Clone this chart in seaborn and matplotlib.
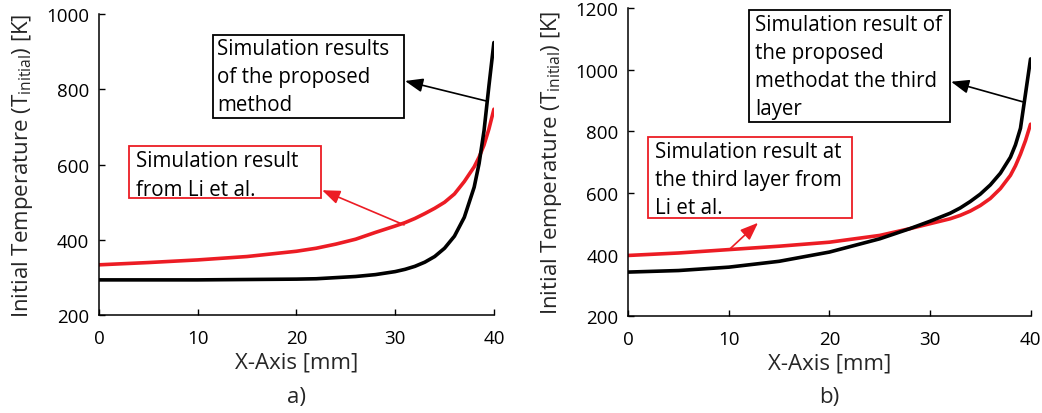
import numpy as np
import pandas as pd
import matplotlib
matplotlib.use("Agg")
import matplotlib.pyplot as plt
from matplotlib.patches import Rectangle
import seaborn as sns

# ---- data -------------------------------------------------------------
x_a_proposed = [0, 5, 10, 15, 20, 22, 24, 26, 28, 30, 31, 32, 33, 34, 35, 36,
                37, 38, 38.5, 39, 39.5, 40]
t_a_proposed = [294, 294, 294, 295, 296, 297, 300, 303, 308, 316, 322, 330, 341,
                356, 378, 410, 460, 540, 603, 690, 810, 924]

x_a_li = [0, 5, 10, 15, 20, 22, 24, 26, 28, 30, 31, 32, 33, 34, 35, 36, 37, 38,
          38.5, 39, 39.5, 40]
t_a_li = [334, 340, 347, 356, 370, 378, 389, 402, 420, 437, 446, 457, 470, 484,
          500, 522, 555, 594, 620, 652, 695, 747]

x_b_proposed = [0, 5, 10, 15, 20, 25, 28, 30, 32, 33, 34, 35, 36, 37, 38, 38.5,
                39, 39.5, 40]
t_b_proposed = [343, 348, 359, 378, 408, 451, 484, 508, 534, 551, 572, 596, 626,
                664, 716, 756, 810, 922, 1035]

x_b_li = [0, 5, 10, 15, 20, 25, 28, 30, 32, 33, 34, 35, 36, 37, 38, 38.5, 39,
          39.5, 40]
t_b_li = [397, 405, 416, 427, 440, 462, 484, 500, 516, 527, 541, 559, 582, 614,
          657, 688, 726, 770, 823]

x_ticks = [0, 10, 20, 30, 40]
y_ticks_a = [200, 400, 600, 800, 1000]
y_ticks_b = [200, 400, 600, 800, 1000, 1200]

label_a_proposed = ["Simulation results", "of the proposed", "method"]
label_a_li = ["Simulation result", "from Li et al."]
label_b_proposed = ["Simulation result of", "the proposed", "methodat the third",
                    "layer"]
label_b_li = ["Simulation result at", "the third layer from", "Li et al."]

RED = "#ec1c24"
BLACK = "#000000"
NOTE_SIZE = 14.8
LINE_STEP_PT = 20.2   # distance between note baselines, in points

# ---- style ------------------------------------------------------------
sns.set_theme(style="ticks")
plt.rcParams["font.family"] = ["Open Sans", "DejaVu Sans"]
plt.rcParams["mathtext.fontset"] = "custom"
plt.rcParams["mathtext.rm"] = "Open Sans"

fig = plt.figure(figsize=(10.42, 4.14), dpi=100)
ax_a = fig.add_axes([0.095, 0.236, 0.379, 0.728])
ax_b = fig.add_axes([0.603, 0.234, 0.386, 0.744])


def draw_panel(ax, xp, tp, xl, tl, yticks, tag):
    df = pd.concat([
        pd.DataFrame({"x": xl, "T": tl, "series": "li"}),
        pd.DataFrame({"x": xp, "T": tp, "series": "proposed"}),
    ])
    sns.lineplot(data=df, x="x", y="T", hue="series",
                 palette={"li": RED, "proposed": BLACK},
                 linewidth=2.6, legend=False, ax=ax, estimator=None, sort=True)
    ax.set_xlim(0, 40)
    ax.set_ylim(yticks[0], yticks[-1])
    ax.set_xticks(x_ticks)
    ax.set_yticks(yticks)
    ax.tick_params(direction="in", length=4, width=1.0, labelsize=13.5,
                   color="black", labelcolor="black")
    ax.tick_params(axis="x", pad=10)
    ax.tick_params(axis="y", pad=7)
    for side in ("top", "right"):
        ax.spines[side].set_visible(False)
    for side in ("left", "bottom"):
        ax.spines[side].set_linewidth(1.1)
        ax.spines[side].set_color("black")
    ax.set_xlabel("X-Axis [mm]", fontsize=16, labelpad=3)
    ax.set_ylabel(r"Initial Temperature (T$_{\mathregular{initial}}$) [K]",
                  fontsize=16, labelpad=8)
    # panel tag under the x-axis label
    bbox = ax.get_position()
    fig.text((bbox.x0 + bbox.x1) / 2, 1 - 398 / 414, tag, ha="center",
             va="center", fontsize=16)


def boxed_note(ax, x0, y0, x1, y1, lines, tx, ty, color):
    ax.add_patch(Rectangle((x0, y0), x1 - x0, y1 - y0, facecolor="white",
                           edgecolor=color, linewidth=1.3, clip_on=False,
                           zorder=4))
    for i, line in enumerate(lines):
        ax.annotate(line, xy=(tx, ty), xycoords="data",
                    xytext=(0, -i * LINE_STEP_PT), textcoords="offset points",
                    ha="left", va="baseline", fontsize=NOTE_SIZE,
                    color="black", zorder=5, annotation_clip=False)


def arrow(ax, start, end, color):
    ax.annotate("", xy=end, xytext=start,
                arrowprops=dict(arrowstyle="-|>,head_length=0.9,head_width=0.35",
                                color=color, lw=1.2, shrinkA=0, shrinkB=0),
                zorder=6)


draw_panel(ax_a, x_a_proposed, t_a_proposed, x_a_li, t_a_li, y_ticks_a, "a)")
draw_panel(ax_b, x_b_proposed, t_b_proposed, x_b_li, t_b_li, y_ticks_b, "b)")

# panel a annotations
boxed_note(ax_a, 11.5, 723, 30.9, 943, label_a_proposed, 11.98, 893, BLACK)
arrow(ax_a, (39.2, 769), (31.0, 822), BLACK)
boxed_note(ax_a, 3.0, 511, 22.5, 649, label_a_li, 3.71, 595, RED)
arrow(ax_a, (30.9, 440), (22.6, 532), RED)

# panel b annotations
boxed_note(ax_b, 12.0, 831, 32.0, 1195, label_b_proposed, 12.6, 1128, BLACK)
arrow(ax_b, (39.2, 896), (32.1, 961), BLACK)
boxed_note(ax_b, 2.0, 519, 22.2, 782, label_b_li, 2.61, 716, RED)
arrow(ax_b, (10.1, 418), (12.9, 503), RED)

fig.savefig("out.png", dpi=100, facecolor="white")
